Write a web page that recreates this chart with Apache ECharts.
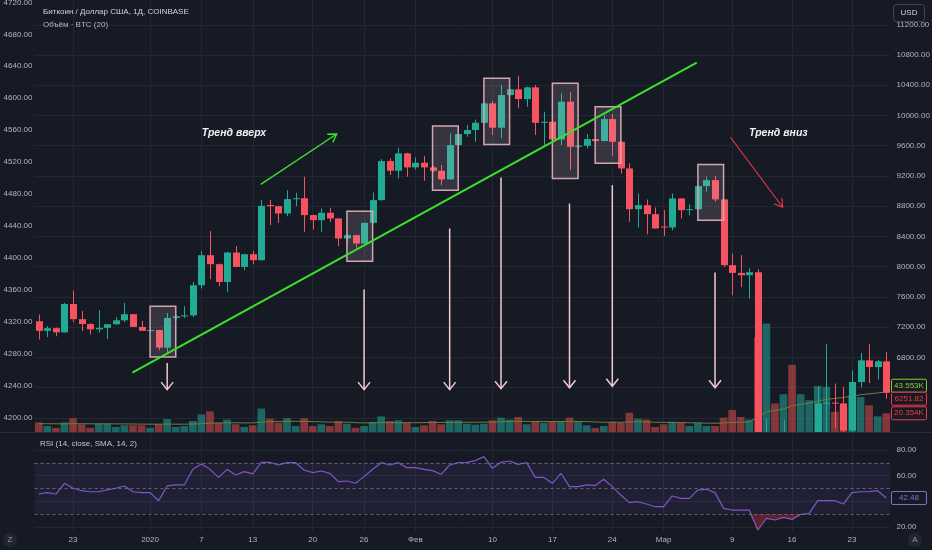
<!DOCTYPE html>
<html><head><meta charset="utf-8">
<script src="https://cdn.jsdelivr.net/npm/echarts@6/dist/echarts.min.js"></script>
<style>html,body{margin:0;padding:0;background:#161a25;}#c{width:932px;height:550px;}</style>
</head><body><div id="c"></div>
<script>
// ---------------- DATA ----------------
const dates = [
'2019-12-19','2019-12-20','2019-12-21','2019-12-22','2019-12-23','2019-12-24','2019-12-25','2019-12-26','2019-12-27','2019-12-28','2019-12-29','2019-12-30','2019-12-31',
'2020-01-01','2020-01-02','2020-01-03','2020-01-04','2020-01-05','2020-01-06','2020-01-07','2020-01-08','2020-01-09','2020-01-10','2020-01-11','2020-01-12','2020-01-13','2020-01-14','2020-01-15','2020-01-16','2020-01-17','2020-01-18','2020-01-19','2020-01-20','2020-01-21','2020-01-22','2020-01-23','2020-01-24','2020-01-25','2020-01-26','2020-01-27','2020-01-28','2020-01-29','2020-01-30','2020-01-31',
'2020-02-01','2020-02-02','2020-02-03','2020-02-04','2020-02-05','2020-02-06','2020-02-07','2020-02-08','2020-02-09','2020-02-10','2020-02-11','2020-02-12','2020-02-13','2020-02-14','2020-02-15','2020-02-16','2020-02-17','2020-02-18','2020-02-19','2020-02-20','2020-02-21','2020-02-22','2020-02-23','2020-02-24','2020-02-25','2020-02-26','2020-02-27','2020-02-28','2020-02-29',
'2020-03-01','2020-03-02','2020-03-03','2020-03-04','2020-03-05','2020-03-06','2020-03-07','2020-03-08','2020-03-09','2020-03-10','2020-03-11','2020-03-12','2020-03-13','2020-03-14','2020-03-15','2020-03-16','2020-03-17','2020-03-18','2020-03-19','2020-03-20','2020-03-21','2020-03-22','2020-03-23','2020-03-24','2020-03-25','2020-03-26','2020-03-27'];

const openP = [7277,7150,7185,7130,7505,7305,7240,7170,7190,7237,
 7290,7370,7202,7150,7160,6928,7321,7343,7355,7754,
 8151,8032,7797,8186,7996,8164,8085,8815,8800,8703,
 8893,8905,8681,8615,8712,8637,8372,8416,8306,8579,
 8880,9396,9268,9498,9313,9374,9313,9268,9154,9608,
 9754,9807,9903,10160,9838,10270,10346,10217,10372,9903,
 9917,9683,10182,9585,9600,9687,9661,9952,9652,9299,
 8760,8813,8694,8530,8518,8902,8747,8760,9065,9144,
 8889,8019,7917,7886,7926,4860,5620,5170,5360,5030,
 5330,5420,6190,6200,6190,5830,6473,6760,6671,6747];
const highP = [7366,7215,7195,7518,7680,7413,7250,7423,7240,7330,
 7520,7375,7282,7175,7165,7387,7355,7476,7797,8208,
 8469,8040,8195,8273,8170,8208,8880,8880,8805,9012,
 8976,9188,8690,8770,8780,8640,8440,8420,8580,8982,
 9419,9432,9572,9505,9445,9462,9330,9343,9763,9760,
 9873,9948,10182,10195,10403,10350,10526,10380,10403,10049,
 10000,10293,10314,9620,9754,9700,10005,10019,9660,9366,
 8968,8889,8783,8747,8968,8905,8826,9070,9188,9201,
 8892,8173,8151,7975,7966,5990,5660,5966,5370,5550,
 5450,6407,6972,6452,6407,6628,6857,6972,6765,6870];
const lowP = [7034,7070,7080,7128,7265,7148,7105,7127,7043,7230,
 7268,7200,7150,7140,6893,6857,7305,7320,7334,7710,
 7833,7740,7665,7990,7953,8032,8080,8548,8579,8667,
 8800,8460,8492,8460,8590,8270,8300,8253,8300,8570,
 8870,9211,9167,9188,9286,9136,9250,9078,9150,9600,
 9718,9652,9900,9740,9697,10265,10094,10116,9740,9608,
 9470,9608,9277,9560,9564,9650,9655,9466,9233,8592,
 8518,8429,8505,8403,8482,8637,8681,8755,8990,8858,
 7996,7621,7731,7578,4440,3850,5120,5100,4440,4930,
 5000,5270,5670,5860,5730,5690,6399,6460,6505,6253];
const closeP = [7150,7185,7130,7505,7305,7240,7170,7190,7237,7290,
 7370,7202,7150,7160,6928,7321,7343,7355,7754,8151,
 8032,7797,8186,7996,8164,8085,8804,8800,8703,8893,
 8905,8681,8615,8712,8637,8372,8416,8306,8579,8880,
 9396,9268,9498,9313,9374,9313,9268,9154,9608,9754,
 9807,9903,10160,9838,10270,10346,10217,10372,9903,9917,
 9683,10182,9585,9600,9687,9661,9952,9652,9299,8760,
 8813,8694,8505,8518,8902,8747,8760,9065,9144,8889,
 8019,7917,7886,7926,4860,5620,5170,5360,5030,5330,
 5420,6190,6200,6190,5830,6473,6760,6671,6747,6330];
// volume, thousands of BTC
const volumeK = [10.5,6.5,4.5,10.5,15,8.4,4.5,9,9,5.5,
 7.3,7.3,7.3,4.5,8.4,14,5.5,6.5,12,19,
 22.5,10,13.5,8.4,5.5,7.3,25.5,14.5,10,15,
 6.5,15,6.5,8.4,6.5,12,9,4.5,6.5,11,
 17,12,12.7,10,5.5,7.3,12,8.4,12.7,12.7,
 9,8,9,12.7,15.6,13.5,16.3,8.4,12,10,
 11,12,15.6,11.6,7.3,4.3,6.5,11,10,21,
 14.5,13.5,5.5,8.4,11,10,6.5,10,6.5,6.5,
 15.6,24,16.3,13.5,103,118,31,41,73,41,
 34.5,50,49,22,28,40,38,29,17,20.354];
const volumeMA = [9.0,9.0,8.9,8.9,9.0,9.0,8.9,8.9,8.9,8.8,
 8.8,8.7,8.6,8.5,8.5,8.6,8.5,8.5,8.6,9.0,
 9.6,9.8,10.0,10.0,9.9,9.9,10.7,11.2,11.4,11.6,
 11.6,11.6,11.3,11.0,10.7,10.6,10.7,10.2,9.9,9.9,
 10.2,10.2,10.0,10.1,10.1,10.2,10.4,10.4,10.4,10.6,
 10.6,10.6,10.7,10.8,11.2,11.5,11.6,11.5,11.5,11.4,
 11.4,11.4,11.6,11.6,11.3,10.9,10.6,10.6,10.5,11.1,
 11.1,11.0,10.6,10.5,10.5,10.3,10.0,10.0,9.6,9.5,
 9.8,10.5,10.7,11.0,16.0,22.0,23.5,25.0,28.5,30.0,
 31.5,33.5,35.5,36.5,37.5,39.0,40.5,41.5,42.5,43.553];
const rsi = [45.6,46.7,45.6,54.0,50.1,48.2,47.4,47.4,48.8,50.1,
 51.9,47.4,46.7,46.7,40.4,51.9,52.7,52.7,64.9,69.1,
 64.9,58.6,64.9,60.5,63.1,61.3,70.4,70.4,68.3,70.1,
 70.1,64.4,62.3,63.6,61.8,55.3,55.8,54.0,59.2,64.9,
 70.1,68.3,70.1,66.2,66.2,64.9,63.9,61.0,68.3,70.1,
 70.4,71.7,74.8,65.7,70.4,71.4,68.8,70.1,58.6,58.6,
 54.0,61.8,51.4,51.4,52.7,52.2,57.1,51.4,44.8,38.9,
 39.6,37.8,35.7,35.7,44.1,42.2,42.2,48.8,49.3,46.7,
 34.4,33.1,33.1,33.1,17.5,26.6,25.3,27.4,25.8,29.6,
 30.5,40.4,40.4,40.4,37.8,46.7,47.4,47.4,48.2,42.48];
const lastPrice = 6251.82;
const lastVolumeText = '20.354K';
const lastMAText = '43.553K';
const lastRsiText = '42.48';

const tickDates = ['2019-12-23','2020-01-01','2020-01-07','2020-01-13','2020-01-20','2020-01-26','2020-02-01','2020-02-10','2020-02-17','2020-02-24','2020-03-01','2020-03-09','2020-03-16','2020-03-23'];
const tickLabels = ['23','2020','7','13','20','26','Фев','10','17','24','Мар','9','16','23'];

// drawings, in data coordinates: [day index, price]
const trendLine = [[10.93, 6596], [76.86, 10698]];
const upArrow = [[25.93, 9089], [34.8, 9755]];
const downArrow = [[80.78, 9715], [86.9, 8785]];
const boxFrom = [13, 36, 46, 52, 60, 65, 77];
const boxTo = [16, 39, 49, 55, 63, 68, 80];
const boxTop = [7475, 8734, 9860, 10491, 10425, 10115, 9352];
const boxBottom = [6804, 8071, 9012, 9617, 9167, 9366, 8615];
const signalX = [15, 38, 48, 54, 62, 67, 79];
const signalFrom = [6723, 7697, 8504, 9180, 8835, 9078, 7922];
const signalTo = [6372, 6372, 6372, 6385, 6398, 6416, 6398];
const noteText = ['Тренд вверх', 'Тренд вниз'];
const noteX = [22.8, 86.4];
const noteP = [9767, 9767];

// ---------------- STYLE ----------------
const FONT = "'Liberation Sans', Arial, sans-serif";
const FS = 8;
const BG = '#161a25';
const GRID = '#232734';
const TXT = '#b2b5be';
const UP = '#22ab94', DOWN = '#f7525f';
const L = 34.5, W = 856;

const candleData = dates.map((d, i) => [i, openP[i], closeP[i], lowP[i], highP[i]]);
const volData = volumeK.map((v, i) => ({value: v, itemStyle: {color: closeP[i] >= openP[i] ? 'rgba(38,166,154,0.55)' : 'rgba(239,83,80,0.5)'}}));
const osBase = rsi.map(v => Math.min(v, 30));
const osFill = rsi.map(v => 30 - Math.min(v, 30));
const isTick = (i, v) => tickDates.indexOf(v) >= 0;

function renderCandle(params, api) {
  const i = api.value(0), o = api.value(1), c = api.value(2), lo = api.value(3), hi = api.value(4);
  const po = api.coord([i, o]), pc = api.coord([i, c]), pl = api.coord([i, lo]), ph = api.coord([i, hi]);
  const bw = Math.round(api.size([1, 0])[0] * 0.76);
  const cx = Math.round(po[0]);
  const col = c >= o ? UP : DOWN;
  const top = Math.min(po[1], pc[1]), h = Math.max(1, Math.abs(po[1] - pc[1]));
  return {type: 'group', children: [
    {type: 'rect', shape: {x: cx, y: ph[1], width: 1, height: pl[1] - ph[1]}, style: {fill: col}},
    {type: 'rect', shape: {x: cx + 0.5 - bw / 2, y: top, width: bw, height: h}, style: {fill: col}}
  ]};
}

const hiddenCat = (g) => ({type: 'category', gridIndex: g, data: dates, show: false, boundaryGap: true});
const chart = echarts.init(document.getElementById('c'), null, {renderer: 'canvas'});
const option = {
  backgroundColor: BG,
  animation: false,
  textStyle: {fontFamily: FONT},
  grid: [
    {left: L, width: W, top: 0, height: 432, outerBoundsMode: 'none'},
    {left: L, width: W, top: 24.77, height: 392.99, outerBoundsMode: 'none'},
    {left: L, width: W, top: 2.4, height: 415.3, outerBoundsMode: 'none'},
    {left: L, width: W, top: 294, height: 138, outerBoundsMode: 'none'},
    {left: L, width: W, top: 433, height: 98, outerBoundsMode: 'none'},
    {left: L, width: W, top: 450, height: 76.8, outerBoundsMode: 'none'},
    {left: L + W / 200, width: W - W / 100, top: 0, height: 531, outerBoundsMode: 'none'}
  ],
  xAxis: [
    hiddenCat(0),
    {type: 'value', gridIndex: 0, min: -0.5, max: 99.5, show: false},
    hiddenCat(1), hiddenCat(2), hiddenCat(3), hiddenCat(4), hiddenCat(5),
    {type: 'category', gridIndex: 6, data: dates, boundaryGap: false,
      axisLine: {show: false}, axisTick: {show: false},
      axisLabel: {interval: isTick, formatter: (v) => tickLabels[tickDates.indexOf(v)], color: TXT, fontSize: FS, margin: 5, fontFamily: FONT},
      splitLine: {show: true, interval: isTick, lineStyle: {color: GRID, width: 1}}}
  ],
  yAxis: [
    {type: 'value', gridIndex: 0, min: 5811.6, max: 11527.7, show: false},
    {type: 'value', gridIndex: 1, min: 6000, max: 11200, interval: 400, position: 'right',
      axisLine: {show: false}, axisTick: {show: false},
      axisLabel: {color: TXT, fontSize: FS, margin: 6, formatter: v => v.toFixed(2), fontFamily: FONT},
      splitLine: {show: true, lineStyle: {color: GRID}}},
    {type: 'value', gridIndex: 2, min: 4200, max: 4720, interval: 40, position: 'left',
      axisLine: {show: false}, axisTick: {show: false},
      axisLabel: {color: TXT, fontSize: FS, margin: 2, formatter: v => v.toFixed(2), fontFamily: FONT},
      splitLine: {show: false}},
    {type: 'value', gridIndex: 3, min: 0, max: 150, show: false},
    {type: 'value', gridIndex: 4, min: 16.72, max: 93.28, show: false},
    {type: 'value', gridIndex: 5, min: 20, max: 80, interval: 20, position: 'right',
      axisLine: {show: false}, axisTick: {show: false},
      axisLabel: {color: TXT, fontSize: FS, margin: 6, formatter: v => v.toFixed(2), fontFamily: FONT},
      splitLine: {show: true, lineStyle: {color: GRID}}},
    {type: 'value', gridIndex: 6, show: false}
  ],
  series: [
    {type: 'bar', name: 'volume', xAxisIndex: 4, yAxisIndex: 3, data: volData, barCategoryGap: '10%', z: 1, silent: true},
    {type: 'line', name: 'volMA', xAxisIndex: 4, yAxisIndex: 3, data: volumeMA, symbol: 'none', z: 2,
      lineStyle: {color: '#6f7f34', width: 1}, silent: true},
    {type: 'custom', name: 'BTC', xAxisIndex: 0, yAxisIndex: 0, data: candleData, renderItem: renderCandle,
      encode: {x: 0, y: [1, 2, 3, 4]}, clip: true, z: 3, silent: true},
    {type: 'line', name: 'osBase', xAxisIndex: 5, yAxisIndex: 4, data: osBase, stack: 'os', symbol: 'none',
      lineStyle: {width: 0}, silent: true, z: 2},
    {type: 'line', name: 'osFill', xAxisIndex: 5, yAxisIndex: 4, data: osFill, stack: 'os', symbol: 'none',
      lineStyle: {width: 0}, areaStyle: {color: 'rgba(242,54,69,0.45)'}, silent: true, z: 2},
    {type: 'line', name: 'RSI', xAxisIndex: 5, yAxisIndex: 4, data: rsi, symbol: 'none', z: 4,
      lineStyle: {color: '#7e57c2', width: 1.2}, silent: true,
      markArea: {silent: true, itemStyle: {color: 'rgba(126,87,194,0.1)'}, data: [[{yAxis: 30}, {yAxis: 70}]]},
      markLine: {silent: true, symbol: 'none', label: {show: false},
        lineStyle: {color: '#787b86', type: [3, 3], width: 1, opacity: 0.75},
        data: [{yAxis: 70}, {yAxis: 50}, {yAxis: 30}]}}
  ]
};
chart.setOption(option);

// ---------------- DRAWINGS (through the chart's own scales) ----------------
const P = (x, p) => chart.convertToPixel({xAxisIndex: 1, yAxisIndex: 0}, [x, p]);
const g = [];
function chevron(a, b, len, half, color, w) {
  const dx = b[0] - a[0], dy = b[1] - a[1], d = Math.hypot(dx, dy);
  const ux = dx / d, uy = dy / d, nx = -uy, ny = ux;
  g.push({type: 'polyline', z: 101, shape: {points: [
    [b[0] - len * ux + half * nx, b[1] - len * uy + half * ny], b,
    [b[0] - len * ux - half * nx, b[1] - len * uy - half * ny]]},
    style: {stroke: color, lineWidth: w, fill: null}});
}
function arrowLine(p1, p2, color, w, len, half) {
  const a = P(p1[0], p1[1]), b = P(p2[0], p2[1]);
  g.push({type: 'line', z: 101, shape: {x1: a[0], y1: a[1], x2: b[0], y2: b[1]}, style: {stroke: color, lineWidth: w}});
  if (len) chevron(a, b, len, half, color, w);
}
for (let k = 0; k < boxFrom.length; k++) {
  const a = P(boxFrom[k], boxTop[k]), b = P(boxTo[k], boxBottom[k]);
  g.push({type: 'rect', z: 100, shape: {x: a[0], y: a[1], width: b[0] - a[0], height: b[1] - a[1]},
    style: {fill: 'rgba(215,190,205,0.16)', stroke: '#d4a5af', lineWidth: 1.5}});
}
arrowLine(trendLine[0], trendLine[1], '#3be22a', 2, 0, 0);
arrowLine(upArrow[0], upArrow[1], '#3be22a', 1.4, 8, 5);
arrowLine(downArrow[0], downArrow[1], '#f23645', 1.1, 8, 5);
for (let k = 0; k < signalX.length; k++) {
  arrowLine([signalX[k], signalFrom[k]], [signalX[k], signalTo[k]], '#f2c9d1', 1.5, 7.5, 6);
}
for (let k = 0; k < noteText.length; k++) {
  const a = P(noteX[k], noteP[k]);
  g.push({type: 'text', z: 102, x: a[0], y: a[1], style: {text: noteText[k], fill: '#f0f0f3', font: 'italic bold 10.5px ' + FONT, align: 'center', verticalAlign: 'middle'}});
}
g.push({type: 'line', z: 50, shape: {x1: 0, y1: 432.5, x2: 932, y2: 432.5}, style: {stroke: '#2a2e39', lineWidth: 1}});
g.push({type: 'text', z: 102, x: 43, y: 12, style: {text: 'Биткоин / Доллар США, 1Д, COINBASE', fill: '#d1d4dc', font: '8px ' + FONT, verticalAlign: 'middle'}});
g.push({type: 'text', z: 102, x: 43, y: 24.5, style: {text: 'Объём · BTC (20)', fill: '#b2b5be', font: '8px ' + FONT, verticalAlign: 'middle'}});
g.push({type: 'text', z: 102, x: 40, y: 443.5, style: {text: 'RSI (14, close, SMA, 14, 2)', fill: '#c3c6ce', font: '8px ' + FONT, verticalAlign: 'middle'}});
g.push({type: 'rect', z: 102, shape: {x: 893.5, y: 4.5, width: 31, height: 17, r: 3}, style: {fill: BG, stroke: '#434651', lineWidth: 1}});
g.push({type: 'text', z: 103, x: 909, y: 13, style: {text: 'USD', fill: '#d1d4dc', font: '8px ' + FONT, align: 'center', verticalAlign: 'middle'}});
[[10, 'Z'], [915, 'A']].forEach(([x, t]) => {
  g.push({type: 'circle', z: 102, shape: {cx: x, cy: 540, r: 7}, style: {fill: '#222631'}});
  g.push({type: 'text', z: 103, x: x, y: 540, style: {text: t, fill: '#9598a1', font: '8px ' + FONT, align: 'center', verticalAlign: 'middle'}});
});
function tag(y, text, color) {
  g.push({type: 'rect', z: 104, shape: {x: 891.5, y: y - 6.5, width: 35, height: 13, r: 1.5}, style: {fill: BG, stroke: color, lineWidth: 1}});
  g.push({type: 'text', z: 105, x: 909, y: y, style: {text: text, fill: color, font: '8px ' + FONT, align: 'center', verticalAlign: 'middle'}});
}
const yPrice = P(0, lastPrice)[1];
const yVol = chart.convertToPixel({xAxisIndex: 4, yAxisIndex: 3}, [dates[99], volumeK[99]])[1];
const yMA = Math.min(chart.convertToPixel({xAxisIndex: 4, yAxisIndex: 3}, [dates[99], volumeMA[99]])[1], yPrice - 13);
const yRsi = chart.convertToPixel({xAxisIndex: 5, yAxisIndex: 4}, [dates[99], rsi[99]])[1];
tag(yMA, lastMAText, '#7fd02f');
tag(yPrice, lastPrice.toFixed(2), '#f23645');
tag(Math.max(yVol, yPrice + 13), lastVolumeText, '#f23645');
tag(yRsi, lastRsiText, '#8e6bd0');
chart.setOption({graphic: {elements: g}});
</script></body></html>
